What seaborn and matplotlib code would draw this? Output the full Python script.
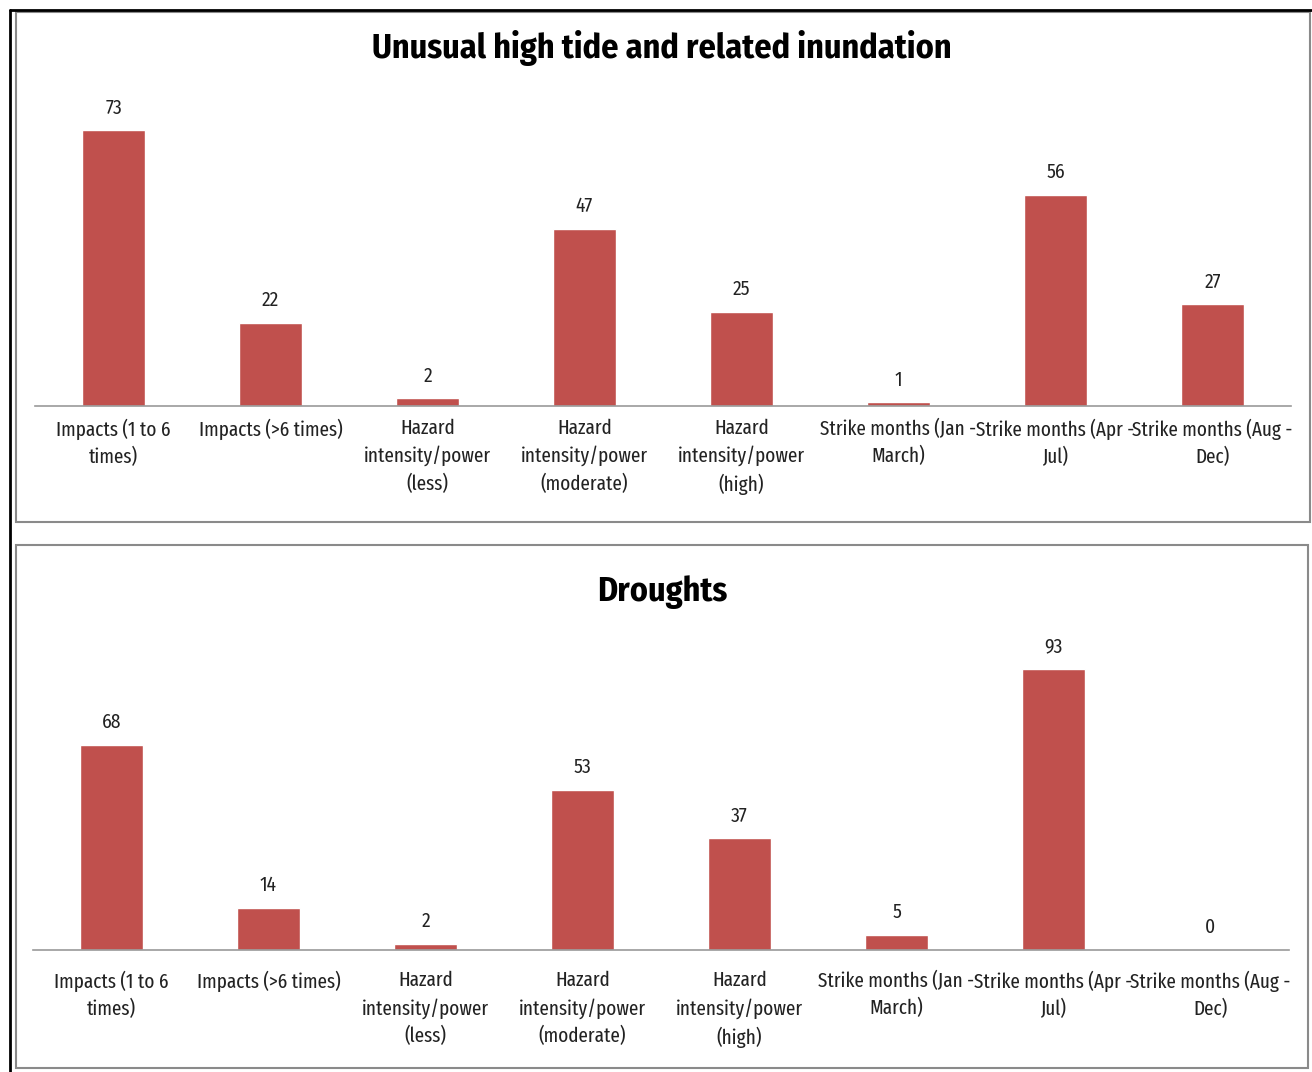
import matplotlib
matplotlib.use('Agg')
import matplotlib.pyplot as plt
import seaborn as sns
import pandas as pd
from matplotlib import font_manager
from matplotlib.patches import Rectangle
from matplotlib.lines import Line2D

categories = ['Impacts (1 to 6\ntimes)', 'Impacts (>6 times)', 'Hazard\nintensity/power\n(less)',
              'Hazard\nintensity/power\n(moderate)', 'Hazard\nintensity/power\n(high)',
              'Strike months (Jan -\nMarch)', 'Strike months (Apr -\nJul)', 'Strike months (Aug -\nDec)']
tide_values = [73, 22, 2, 47, 25, 1, 56, 27]
drought_values = [68, 14, 2, 53, 37, 5, 93, 0]
titles = ['Unusual high tide and related inundation', 'Droughts']

sns.set_theme(style='white')
# narrow humanist sans, close to the squeezed Calibri of the original
installed = {f.name for f in font_manager.fontManager.ttflist}
def pick(wanted):
    return next((f for f in wanted if f in installed), 'DejaVu Sans')
font = pick(['Fira Sans Condensed', 'Open Sans Condensed', 'Encode Sans Condensed',
             'PT Sans Narrow', 'Roboto Condensed', 'Lato'])
label_font = pick(['Fira Sans Extra Condensed', font])
plt.rcParams['font.family'] = [font, 'DejaVu Sans']

fig = plt.figure(figsize=(13.12, 10.72), dpi=100)
W, H = 1312, 1072

def px_box(x0, y0, x1, y1):
    return [x0 / W, 1 - y1 / H, (x1 - x0) / W, (y1 - y0) / H]

# panel frames
fig.patches.append(Rectangle((16 / W, 1 - 522 / H), (1310 - 16) / W, (522 - 12) / H,
                             transform=fig.transFigure, fill=False, edgecolor='#8a8a8a', lw=1.5))
fig.patches.append(Rectangle((16 / W, 1 - 1068 / H), (1308 - 16) / W, (1068 - 545) / H,
                             transform=fig.transFigure, fill=False, edgecolor='#8a8a8a', lw=1.5))
fig.lines.append(Line2D([10 / W, 10 / W], [0, 1 - 10 / H], transform=fig.transFigure, color='black', lw=2))
fig.lines.append(Line2D([10 / W, 1], [1 - 10 / H, 1 - 10 / H], transform=fig.transFigure, color='black', lw=2))

panels = [
    (tide_values, px_box(35, 104, 1291, 406), 80, 48, 9),
    (drought_values, px_box(33, 648, 1289, 950), 100, 592, 15),
]

for (values, box, ytop, title_y, pad), title in zip(panels, titles):
    ax = fig.add_axes(box)
    df = pd.DataFrame({'cat': categories, 'val': values})
    sns.barplot(data=df, x='cat', y='val', color='#C0504D', saturation=1, width=0.4, ax=ax)
    ax.set_ylim(0, ytop)
    ax.set_xlim(-0.5, len(categories) - 0.5)
    for i, v in enumerate(values):
        ax.annotate(str(v), (i, v), xytext=(0, 9), textcoords='offset points',
                    ha='center', va='bottom', fontsize=14, color='#222222')
    for s in ['top', 'right', 'left']:
        ax.spines[s].set_visible(False)
    ax.spines['bottom'].set_color('#9a9a9a')
    ax.spines['bottom'].set_linewidth(1.2)
    ax.set_yticks([])
    ax.set_xlabel('')
    ax.set_ylabel('')
    ax.tick_params(axis='x', length=0, pad=pad, labelsize=15, labelcolor='#222222')
    for lab in ax.get_xticklabels():
        lab.set_linespacing(1.45)
        lab.set_family([label_font, 'DejaVu Sans'])
    ax.set_facecolor('none')
    fig.text(662 / W, 1 - title_y / H, title, ha='center', va='center',
             fontsize=24.5, fontweight='bold', color='black')

fig.savefig('out.png', dpi=100)
